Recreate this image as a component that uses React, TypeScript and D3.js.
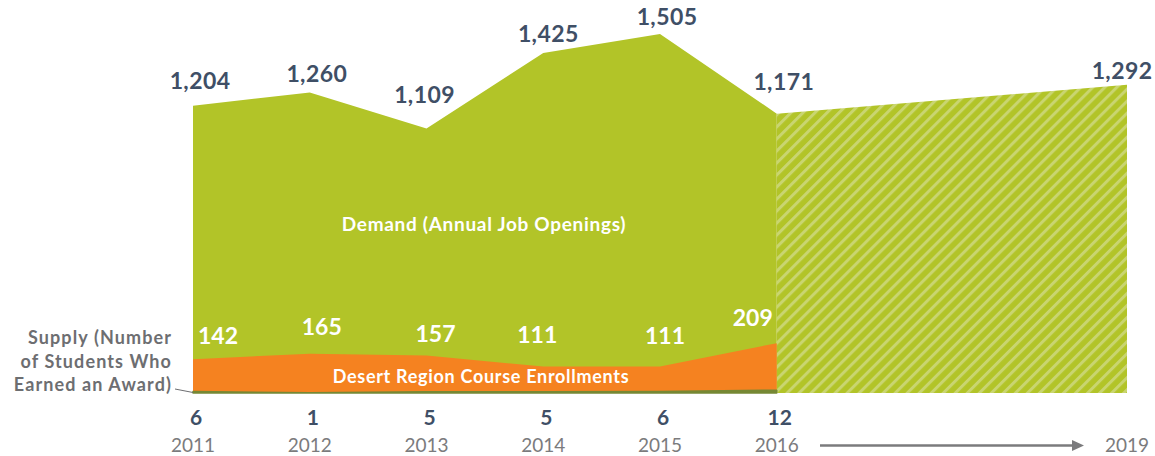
import React from "react";
import * as d3 from "d3";

const years = [2011, 2012, 2013, 2014, 2015, 2016];
const forecastYear = 2019;
const demand = [1204, 1260, 1109, 1425, 1505, 1171];
const demandForecast = 1292;
const enrollments = [142, 165, 157, 111, 111, 209];
const supply = [6, 1, 5, 5, 6, 12];
const yearLabels = ["2011", "2012", "2013", "2014", "2015", "2016"];
const forecastLabel = "2019";

// label nudges (pixels) relative to their data point
const demandNudge = [[7, -17], [7, -10], [-2, -25], [5, -11], [7, -9], [7, -24]];
const forecastNudge = [-5, -6];
const enrollNudge = [[25, -15], [12, -19], [9, -14], [-6, -24], [5, -23], [-24, -17]];

const W = 1155;
const H = 456;
const GREEN = "#b2c428";
const STRIPE = "#c9d570";
const ORANGE = "#f58220";
const OLIVE = "#768834";
const SLATE = "#3f4f66";
const GRAY = "#7b7b7d";
const FONT = "Lato, 'Open Sans', sans-serif";

const fmt = d3.format(",");

export default function App() {
  const x = d3.scaleLinear().domain([2011, 2019]).range([193, 1127]);
  const y = d3.scaleLinear().domain([0, 1505]).range([393, 34]);

  const area = d3
    .area<[number, number]>()
    .x((d) => x(d[0]))
    .y0(y(0))
    .y1((d) => y(d[1]));

  const demandPts: [number, number][] = years.map((yr, i) => [yr, demand[i]]);
  const forecastPts: [number, number][] = [
    [years[years.length - 1], demand[demand.length - 1]],
    [forecastYear, demandForecast],
  ];
  const enrollPts: [number, number][] = years.map((yr, i) => [yr, enrollments[i]]);
  const supplyPts: [number, number][] = years.map((yr, i) => [yr, supply[i]]);

  return (
    <svg
      width={W}
      height={H}
      style={{ position: "absolute", left: 0, top: 0, background: "#fff" }}
      fontFamily={FONT}
    >
      <defs>
        <pattern
          id="hatch"
          patternUnits="userSpaceOnUse"
          width={8.5}
          height={8.5}
          patternTransform="rotate(45)"
        >
          <rect width={8.5} height={8.5} fill={GREEN} />
          <rect width={3} height={8.5} fill={STRIPE} />
        </pattern>
      </defs>

      <path d={area(demandPts) || ""} fill={GREEN} />
      <path d={area(forecastPts) || ""} fill="url(#hatch)" />
      <path d={area(enrollPts) || ""} fill={ORANGE} />
      <path
        d={area(supplyPts) || ""}
        fill={OLIVE}
        stroke={OLIVE}
        strokeWidth={1.5}
        strokeLinejoin="round"
      />

      {/* demand value labels */}
      {demand.map((v, i) => (
        <text
          key={"d" + i}
          x={x(years[i]) + demandNudge[i][0]}
          y={y(v) + demandNudge[i][1]}
          textAnchor="middle"
          fontSize={23}
          fontWeight={700}
          letterSpacing={0.4}
          fill={SLATE}
        >
          {fmt(v)}
        </text>
      ))}
      <text
        x={x(forecastYear) + forecastNudge[0]}
        y={y(demandForecast) + forecastNudge[1]}
        textAnchor="middle"
        fontSize={23}
        fontWeight={700}
        letterSpacing={0.4}
        fill={SLATE}
      >
        {fmt(demandForecast)}
      </text>

      {/* enrollment labels */}
      {enrollments.map((v, i) => (
        <text
          key={"e" + i}
          x={x(years[i]) + enrollNudge[i][0]}
          y={y(v) + enrollNudge[i][1]}
          textAnchor="middle"
          fontSize={23}
          fontWeight={700}
          fill="#fff"
        >
          {v}
        </text>
      ))}

      <text
        x={484}
        y={231}
        textAnchor="middle"
        fontSize={19}
        fontWeight={700}
        letterSpacing={0.7}
        fill="#fff"
      >
        Demand (Annual Job Openings)
      </text>
      <text
        x={481}
        y={383}
        textAnchor="middle"
        fontSize={18}
        fontWeight={700}
        letterSpacing={0.7}
        fill="#fff"
      >
        Desert Region Course Enrollments
      </text>

      {/* supply label */}
      <g fontSize={18} fontWeight={700} fill="#6d6e71" textAnchor="end" letterSpacing={1.1}>
        <text x={172} y={344}>Supply (Number</text>
        <text x={172} y={368}>of Students Who</text>
        <text x={172} y={391}>Earned an Award)</text>
      </g>
      <line x1={175} y1={389} x2={x(2011)} y2={392.5} stroke="#6d6e71" strokeWidth={1} />

      {/* supply values */}
      {supply.map((v, i) => (
        <text
          key={"s" + i}
          x={x(years[i]) + 3}
          y={425}
          textAnchor="middle"
          fontSize={21}
          fontWeight={700}
          fill={SLATE}
        >
          {v}
        </text>
      ))}

      {/* year labels */}
      {yearLabels.map((t, i) => (
        <text
          key={"y" + i}
          x={x(years[i])}
          y={452}
          textAnchor="middle"
          fontSize={19}
          fill={GRAY}
        >
          {t}
        </text>
      ))}
      <text x={x(forecastYear)} y={452} textAnchor="middle" fontSize={19} fill={GRAY}>
        {forecastLabel}
      </text>

      {/* arrow */}
      <line x1={820} y1={445.5} x2={1074} y2={445.5} stroke={GRAY} strokeWidth={2.5} />
      <path d="M1072,440 L1084,445.5 L1072,451 Z" fill={GRAY} />
    </svg>
  );
}
